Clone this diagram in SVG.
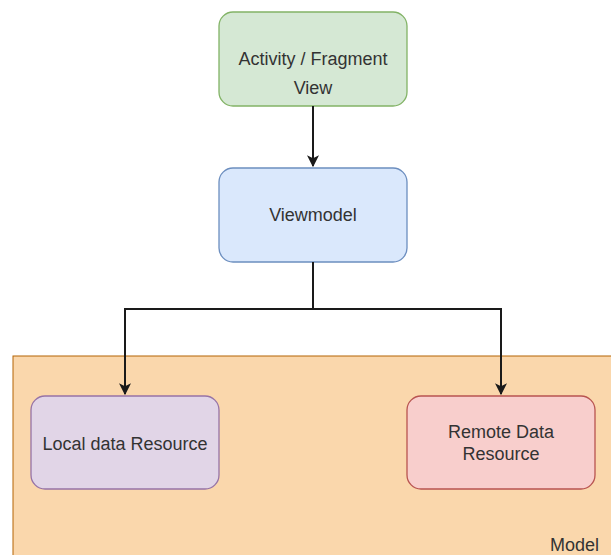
<svg xmlns="http://www.w3.org/2000/svg" width="611" height="555" viewBox="0 0 611 555">
<defs>
<style>
.t{font-family:"Liberation Sans",Arial,sans-serif;font-size:18px;fill:#333;text-anchor:middle}
.c{fill:none;stroke:#1a1a1a;stroke-width:2}
</style>
<marker id="ah" viewBox="0 0 10 10" refX="9" refY="5" markerWidth="6" markerHeight="6" orient="auto" markerUnits="strokeWidth">
<path d="M0,0 L10,5 L0,10 L2.5,5 Z" fill="#1a1a1a"/>
</marker>
</defs>
<rect width="611" height="555" fill="#ffffff"/>
<g id="model">
<rect x="13" y="356" width="610" height="210" fill="#fad7ac" stroke="#b46504" stroke-width="1"/>
<text class="t" x="599" y="551" style="text-anchor:end">Model</text>
</g>
<g id="view">
<rect x="219" y="12" width="188" height="94" rx="14" fill="#d5e8d4" stroke="#82b366" stroke-width="1.3"/>
<text class="t" x="313" y="65">Activity / Fragment</text>
<text class="t" x="313" y="94">View</text>
</g>
<g id="viewmodel">
<rect x="219" y="168" width="188" height="94" rx="14" fill="#dae8fc" stroke="#6c8ebf" stroke-width="1.3"/>
<text class="t" x="313" y="221">Viewmodel</text>
</g>
<g id="local">
<rect x="31" y="396" width="188" height="93" rx="14" fill="#e1d5e7" stroke="#9673a6" stroke-width="1.3"/>
<text class="t" x="125" y="450">Local data Resource</text>
</g>
<g id="remote">
<rect x="407" y="396" width="188" height="93" rx="14" fill="#f8cecc" stroke="#b85450" stroke-width="1.3"/>
<text class="t" x="501" y="438">Remote Data</text>
<text class="t" x="501" y="460">Resource</text>
</g>
<g id="connectors">
<path class="c" d="M313,106 L313,166" marker-end="url(#ah)"/>
<path class="c" d="M313,262 L313,309 L125,309 L125,394" marker-end="url(#ah)"/>
<path class="c" d="M313,309 L501,309 L501,394" marker-end="url(#ah)"/>
</g>
</svg>
